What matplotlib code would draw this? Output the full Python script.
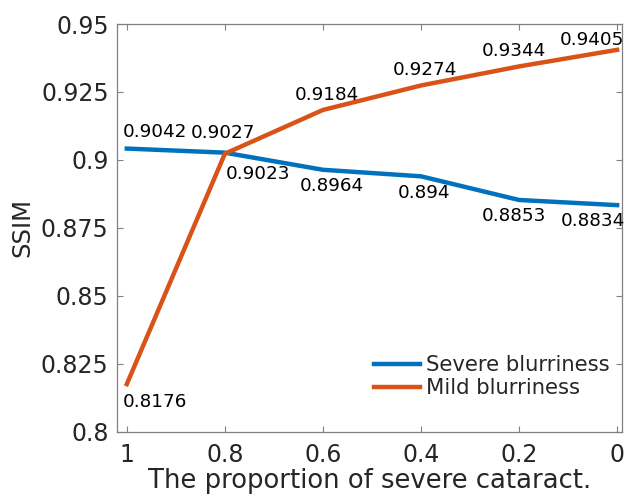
import matplotlib.pyplot as plt

# data
proportion = [1.0, 0.8, 0.6, 0.4, 0.2, 0.0]
severe_ssim = [0.9042, 0.9027, 0.8964, 0.894, 0.8853, 0.8834]
mild_ssim = [0.8176, 0.9023, 0.9184, 0.9274, 0.9344, 0.9405]
x_ticks = [1, 0.8, 0.6, 0.4, 0.2, 0]
x_tick_labels = ["1", "0.8", "0.6", "0.4", "0.2", "0"]
y_ticks = [0.8, 0.825, 0.85, 0.875, 0.9, 0.925, 0.95]
y_tick_labels = ["0.8", "0.825", "0.85", "0.875", "0.9", "0.925", "0.95"]

# label placement (pixel offsets, horizontal alignment)
severe_offsets = [(-4, 17, "left"), (-2, 20, "center"), (9, -16, "center"),
                  (3, -17, "center"), (-5, -16, "center"), (-24, -16, "center")]
mild_offsets = [(-4, -18, "left"), (1, -20, "left"), (4, 15, "center"),
                (4, 15, "center"), (-5, 15, "center"), (-25, 10, "center")]

blue = "#0072BD"
orange = "#D95319"
text_color = "#262626"
axis_color = "#808080"

fig = plt.figure(figsize=(6.25, 4.99), dpi=100)
ax = fig.add_axes([0.1872, 0.1343, 0.808, 0.8176])

ax.plot(proportion, severe_ssim, color=blue, linewidth=3.2, label="Severe blurriness")
ax.plot(proportion, mild_ssim, color=orange, linewidth=3.2, label="Mild blurriness")

for x, y, (dx, dy, ha) in zip(proportion, severe_ssim, severe_offsets):
    ax.annotate(f"{y:g}", (x, y), xytext=(dx, dy), textcoords="offset pixels",
                ha=ha, va="center", fontsize=13.2, color="black")

for x, y, (dx, dy, ha) in zip(proportion, mild_ssim, mild_offsets):
    ax.annotate(f"{y:g}", (x, y), xytext=(dx, dy), textcoords="offset pixels",
                ha=ha, va="center", fontsize=13.2, color="black")

ax.set_xlim(1.02, -0.01)
ax.set_ylim(0.8, 0.95)
ax.set_xticks(x_ticks)
ax.set_xticklabels(x_tick_labels)
ax.set_yticks(y_ticks)
ax.set_yticklabels(y_tick_labels)

ax.tick_params(direction="in", length=4, width=0.8, color=axis_color,
               labelcolor=text_color, labelsize=17, top=True, right=True)
ax.tick_params(axis="x", pad=8)
ax.tick_params(axis="y", pad=6)
for s in ax.spines.values():
    s.set_color(axis_color)
    s.set_linewidth(0.9)

ax.set_xlabel("The proportion of severe cataract.", fontsize=18.6, color=text_color, labelpad=1)
ax.set_ylabel("SSIM", fontsize=17.5, color=text_color, labelpad=5)

ax.legend(loc="lower right", bbox_to_anchor=(0.975, 0.083), frameon=False,
          fontsize=15.2, borderpad=0, borderaxespad=0, handlelength=2.2,
          handletextpad=0.25, labelspacing=0.15, labelcolor=text_color)

fig.savefig("out.png", dpi=100)
